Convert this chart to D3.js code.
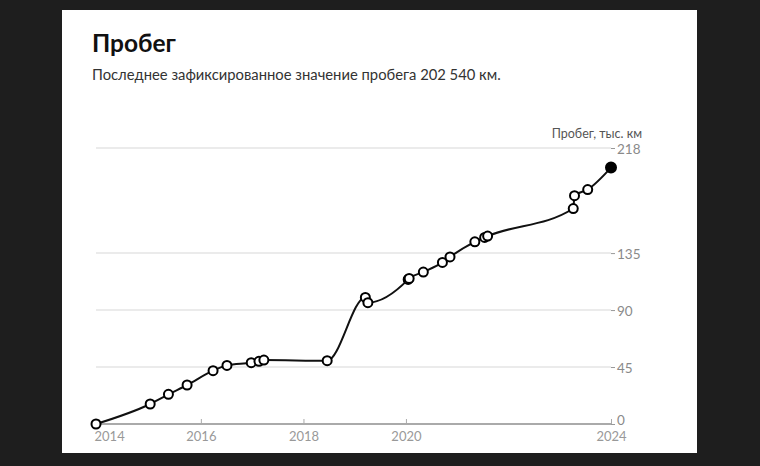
<!DOCTYPE html>
<html>
<head>
<meta charset="utf-8">
<script src="https://cdn.jsdelivr.net/npm/d3@7"></script>
<style>
  html, body { margin: 0; padding: 0; background: #1e1e1e; }
  svg { display: block; }
</style>
</head>
<body>
<svg id="chart" width="760" height="466"></svg>
<script>
const dates = ["2013-12-15","2015-01-05","2015-05-15","2015-09-25","2016-03-28","2016-07-05",
  "2016-12-25","2017-02-18","2017-03-25","2018-06-19","2019-03-18","2019-04-05",
  "2020-01-17","2020-01-24","2020-05-04","2020-09-17","2020-11-10","2021-05-06",
  "2021-07-15","2021-08-05","2023-04-07","2023-04-16","2023-07-19","2024-01-01"];
const mileage = [0, 15.8, 23.4, 30.8, 42.1, 46.3, 48.4, 49.5, 50.5, 50.0, 100.0, 95.8,
  114.2, 115.0, 120.0, 127.6, 132.0, 143.9, 147.4, 148.4, 170.2, 180.3, 185.2, 202.54];
const xTickYears = [2014, 2016, 2018, 2020, 2024];
const yTicks = [0, 45, 90, 135, 218];
const titleText = "Пробег";
const subtitleText = "Последнее зафиксированное значение пробега 202\u202F540\u202Fкм.";
const axisTitle = "Пробег, тыс. км";

const parse = d3.timeParse("%Y-%m-%d");
const data = dates.map((d, i) => ({ date: parse(d), value: mileage[i] }));

const svg = d3.select("#chart");
const font = "Lato, 'Noto Sans', sans-serif";

// card
svg.append("rect").attr("x", 62).attr("y", 10).attr("width", 635).attr("height", 443).attr("fill", "#fff");

svg.append("text").attr("x", 92).attr("y", 52).text(titleText)
  .attr("font-family", font).attr("font-weight", 700).attr("font-size", 24.5).attr("fill", "#111");
svg.append("text").attr("x", 92).attr("y", 80).text(subtitleText)
  .attr("font-family", font).attr("font-size", 14.8).attr("fill", "#333");

const x = d3.scaleTime().domain(d3.extent(data, d => d.date)).range([96, 611]);
const y = d3.scaleLinear().domain([0, 218]).range([424, 148]);

// gridlines + y labels
const yAxis = d3.axisRight(y).tickValues(yTicks).tickSize(4).tickPadding(2).tickFormat(d3.format("d"));
const gy = svg.append("g").attr("transform", "translate(611,0)").call(yAxis);
gy.select(".domain").remove();
gy.selectAll(".tick line").attr("stroke", "#999");
gy.selectAll(".tick text").attr("font-family", font).attr("font-size", 13.5).attr("fill", "#8a8a8a")
  .attr("dy", d => d === 0 ? "0em" : "0.4em");

svg.append("g").selectAll("line").data(yTicks.filter(d => d > 0)).join("line")
  .attr("x1", 96).attr("x2", 611).attr("y1", d => y(d)).attr("y2", d => y(d))
  .attr("stroke", "#e4e4e4").attr("stroke-width", 1.5);

// x axis
const xAxis = d3.axisBottom(x).tickValues(xTickYears.map(yr => new Date(yr, 0, 1)))
  .tickSize(-5).tickPadding(8).tickFormat(d3.timeFormat("%Y"));
const gx = svg.append("g").attr("transform", `translate(0,${y(0)})`).call(xAxis);
gx.select(".domain").remove();
gx.selectAll(".tick line").attr("stroke", "#aaa");
gx.selectAll(".tick text").attr("font-family", font).attr("font-size", 13).attr("fill", "#999")
  .attr("text-anchor", (d, i) => i === 0 ? "start" : "middle")
  .attr("dx", (d, i) => i === 0 ? (94 - x(d)) : 0);
svg.append("line").attr("x1", 96).attr("x2", 611).attr("y1", y(0)).attr("y2", y(0))
  .attr("stroke", "#aaa").attr("stroke-width", 2);

// axis title
svg.append("text").attr("x", 642).attr("y", 138).attr("text-anchor", "end").text(axisTitle)
  .attr("font-family", font).attr("font-size", 12.5).attr("fill", "#555");

// line
const line = d3.line().x(d => x(d.date)).y(d => y(d.value)).curve(d3.curveMonotoneX);
svg.append("path").datum(data).attr("d", line)
  .attr("fill", "none").attr("stroke", "#111").attr("stroke-width", 2);

// points
svg.append("g").selectAll("circle").data(data).join("circle")
  .attr("cx", d => x(d.date)).attr("cy", d => y(d.value))
  .attr("r", (d, i) => i === data.length - 1 ? 5 : 4.5)
  .attr("fill", (d, i) => i === data.length - 1 ? "#000" : "#fff")
  .attr("stroke", "#000").attr("stroke-width", 2);
</script>
</body>
</html>
